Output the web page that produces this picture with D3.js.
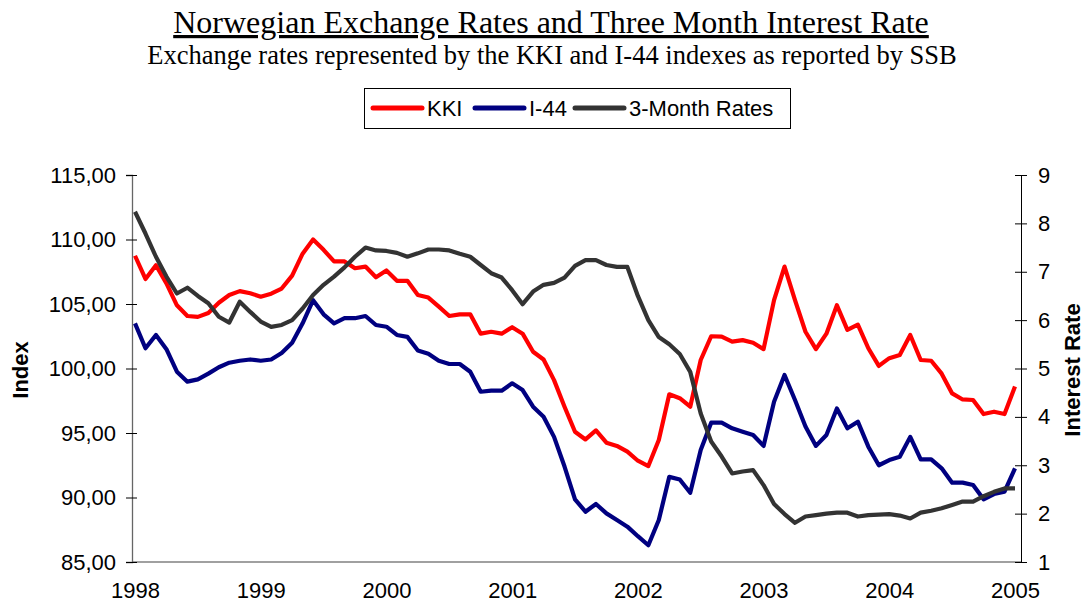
<!doctype html>
<html lang="en">
<head>
	<meta charset="utf-8">
	<title>Norwegian Exchange Rates and Three Month Interest Rate</title>
	<script src="https://d3js.org/d3.v7.min.js"></script>
	<style>
		body { margin: 0; background: #fff; }
		svg { display: block; }
		.tick text { font-family: "Liberation Sans", Arial, sans-serif; font-size: 22px; fill: #000; }
	</style>
</head>
<body>
	<div id="chart"></div>

	<script>
		// DATA ---------------------------
		// monthly values, Jan 1998 .. Jan 2005
		var years = [1998, 1999, 2000, 2001, 2002, 2003, 2004, 2005];
		var indexTicks = [85, 90, 95, 100, 105, 110, 115];
		var rateTicks = [1, 2, 3, 4, 5, 6, 7, 8, 9];
		var seriesNames = ["KKI", "I-44", "3-Month Rates"];

		var kki = [
			108.74, 106.94, 108.0, 106.6, 104.9, 104.07, 104.0, 104.3, 105.1, 105.7, 106.0, 105.83,
			105.57, 105.8, 106.2, 107.2, 108.9, 110.0, 109.2, 108.3, 108.3, 107.77, 107.9, 107.07,
			107.6, 106.8, 106.8, 105.7, 105.5, 104.8, 104.07, 104.2, 104.2, 102.7, 102.85, 102.7,
			103.2, 102.7, 101.3, 100.7, 99.1, 97.04, 95.1, 94.5, 95.2, 94.25, 94.0, 93.55,
			92.85, 92.44, 94.46, 98.0, 97.7, 97.04, 100.66, 102.5, 102.47, 102.08, 102.2, 102.0,
			101.5, 105.3, 107.9, 105.3, 102.85, 101.5, 102.7, 104.9, 103.0, 103.4, 101.57, 100.2,
			100.8, 101.05, 102.6, 100.66, 100.6, 99.6, 98.07, 97.6, 97.56, 96.47, 96.65, 96.47,
			98.6
		];
		var i44 = [
			103.5, 101.57, 102.6, 101.5, 99.75, 98.98, 99.16, 99.6, 100.1, 100.45, 100.6, 100.7,
			100.6, 100.7, 101.2, 102.0, 103.5, 105.3, 104.2, 103.5, 103.9, 103.9, 104.07, 103.37,
			103.24, 102.6, 102.45, 101.4, 101.15, 100.6, 100.35, 100.35, 99.75, 98.2, 98.28, 98.28,
			98.85, 98.33, 97.04, 96.26, 94.7, 92.4, 89.86, 88.9, 89.5, 88.77, 88.26, 87.74,
			87.0, 86.3, 88.26, 91.6, 91.4, 90.37, 93.68, 95.8, 95.8, 95.36, 95.1, 94.85,
			94.0, 97.43, 99.5, 97.56, 95.5, 94.0, 94.85, 96.9, 95.36, 95.88, 93.94, 92.5,
			92.9, 93.16, 94.7, 92.96, 92.96, 92.26, 91.15, 91.15, 90.97, 89.86, 90.27, 90.45,
			92.26
		];
		var rates = [
			8.24, 7.79, 7.31, 6.9, 6.55, 6.67, 6.5, 6.35, 6.07, 5.95, 6.38, 6.17,
			5.97, 5.86, 5.9, 6.0, 6.24, 6.52, 6.73, 6.9, 7.09, 7.31, 7.5, 7.44,
			7.43, 7.39, 7.31, 7.38, 7.46, 7.46, 7.44, 7.37, 7.31, 7.14, 6.97, 6.88,
			6.62, 6.33, 6.59, 6.73, 6.77, 6.88, 7.12, 7.24, 7.24, 7.14, 7.1, 7.1,
			6.5, 6.0, 5.65, 5.5, 5.3, 4.93, 4.07, 3.49, 3.18, 2.83, 2.87, 2.9,
			2.59, 2.2, 1.99, 1.81, 1.94, 1.97, 2.0, 2.02, 2.02, 1.94, 1.97, 1.98,
			1.99, 1.96, 1.9, 2.02, 2.06, 2.11, 2.18, 2.25, 2.25, 2.36, 2.45, 2.52,
			2.52
		];

		var colors = ["#ff0000", "#000080", "#333333"];

		// LAYOUT ---------------------------
		var W = 1086, H = 608;
		var plot = { left: 132, right: 1021, top: 175, bottom: 562 };

		var svg = d3.select("#chart").append("svg")
			.attr("width", W)
			.attr("height", H);

		// scales
		var x = d3.scaleLinear().domain([0, 84]).range([135, 1015]);
		var yL = d3.scaleLinear().domain([85, 115]).range([plot.bottom, plot.top]);
		var yR = d3.scaleLinear().domain([1, 9]).range([plot.bottom, plot.top]);

		// titles
		svg.append("text")
			.attr("x", 551).attr("y", 33)
			.attr("text-anchor", "middle")
			.style("font-family", "'Liberation Serif', 'Times New Roman', serif")
			.style("font-size", "32px")
			.style("text-decoration", "underline")
			.text("Norwegian Exchange Rates and Three Month Interest Rate");

		svg.append("text")
			.attr("x", 552).attr("y", 64)
			.attr("text-anchor", "middle")
			.style("font-family", "'Liberation Serif', 'Times New Roman', serif")
			.style("font-size", "26.5px")
			.text("Exchange rates represented by the KKI and I-44 indexes as reported by SSB");

		// x axis (years, no ticks)
		var xAxis = svg.append("g")
			.attr("transform", "translate(0," + plot.bottom + ")")
			.call(d3.axisBottom(x)
				.tickValues(years.map(function (d) { return (d - 1998) * 12; }))
				.tickFormat(function (d) { return 1998 + d / 12; })
				.tickSize(0)
				.tickPadding(20));
		xAxis.select(".domain").remove();
		svg.append("line")
			.attr("x1", plot.left).attr("x2", plot.right)
			.attr("y1", plot.bottom).attr("y2", plot.bottom)
			.attr("stroke", "#808080").attr("stroke-width", 1.5);

		// left axis
		var leftAxis = svg.append("g")
			.attr("transform", "translate(" + plot.left + ",0)")
			.call(d3.axisLeft(yL)
				.tickValues(indexTicks)
				.tickFormat(function (d) { return d.toFixed(2).replace(".", ","); })
				.tickSize(6)
				.tickPadding(10));
		leftAxis.select(".domain").attr("stroke", "#666").attr("stroke-width", 1.3);
		leftAxis.selectAll(".tick line").attr("x1", 5).attr("stroke", "#000");

		// right axis
		var rightAxis = svg.append("g")
			.attr("transform", "translate(" + plot.right + ",0)")
			.call(d3.axisRight(yR)
				.tickValues(rateTicks)
				.tickSize(6)
				.tickPadding(11));
		rightAxis.select(".domain").attr("stroke", "#000");
		rightAxis.selectAll(".tick line").attr("x1", -6).attr("stroke", "#000");

		// axis titles
		svg.append("text")
			.attr("transform", "translate(28,370) rotate(-90)")
			.attr("text-anchor", "middle")
			.style("font-family", "'Liberation Sans', Arial, sans-serif")
			.style("font-size", "22px")
			.style("font-weight", "bold")
			.text("Index");

		svg.append("text")
			.attr("transform", "translate(1080,370) rotate(-90)")
			.attr("text-anchor", "middle")
			.style("font-family", "'Liberation Sans', Arial, sans-serif")
			.style("font-size", "22px")
			.style("font-weight", "bold")
			.text("Interest Rate");

		// lines
		var lineL = d3.line()
			.x(function (d, i) { return x(i); })
			.y(function (d) { return yL(d); });
		var lineR = d3.line()
			.x(function (d, i) { return x(i); })
			.y(function (d) { return yR(d); });

		var series = [
			{ values: kki, line: lineL },
			{ values: i44, line: lineL },
			{ values: rates, line: lineR }
		];

		series.forEach(function (s, k) {
			svg.append("path")
				.datum(s.values)
				.attr("fill", "none")
				.attr("stroke", colors[k])
				.attr("stroke-width", 4.2)
				.attr("stroke-linejoin", "round")
				.attr("d", s.line);
		});

		// legend
		var legend = svg.append("g");
		legend.append("rect")
			.attr("x", 364.5).attr("y", 88.5)
			.attr("width", 426).attr("height", 40)
			.attr("fill", "#fff").attr("stroke", "#000");

		var legendX = [373, 475, 575];
		seriesNames.forEach(function (name, k) {
			legend.append("line")
				.attr("x1", legendX[k]).attr("x2", legendX[k] + 49)
				.attr("y1", 108).attr("y2", 108)
				.attr("stroke", colors[k])
				.attr("stroke-width", 5)
				.attr("stroke-linecap", "round");
			legend.append("text")
				.attr("x", legendX[k] + 54).attr("y", 116)
				.style("font-family", "'Liberation Sans', Arial, sans-serif")
				.style("font-size", "22px")
				.text(name);
		});
	</script>
</body>
</html>
